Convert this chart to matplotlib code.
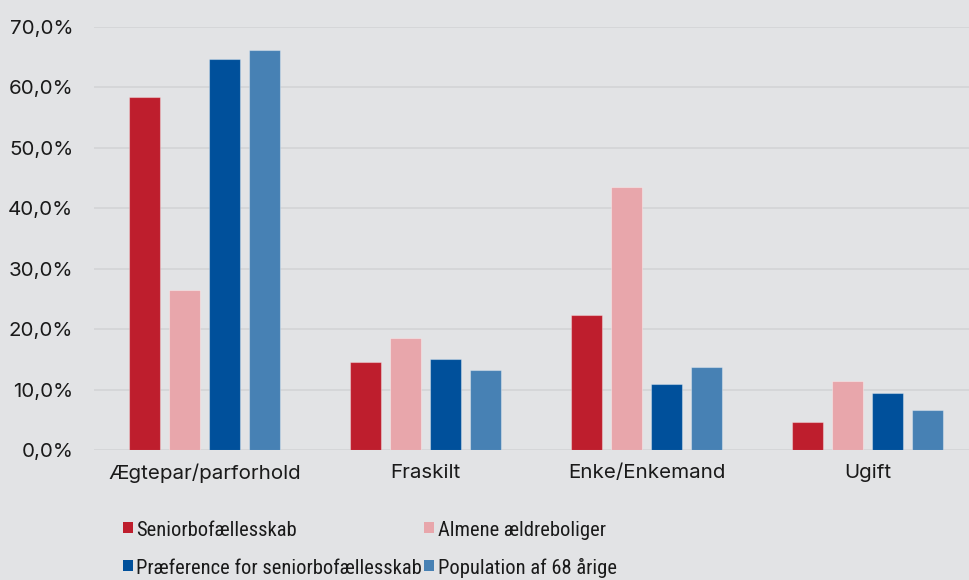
import matplotlib
matplotlib.use("Agg")
import matplotlib.pyplot as plt
import numpy as np
from matplotlib.ticker import FuncFormatter
from matplotlib.patches import Rectangle
from matplotlib import font_manager

plt.rcParams['font.family'] = ['Inter', 'DejaVu Sans']

categories = ["Ægtepar/parforhold", "Fraskilt", "Enke/Enkemand", "Ugift"]
series_names = ["Seniorbofællesskab", "Almene ældreboliger",
                "Præference for seniorbofællesskab", "Population af 68 årige"]
seniorbo = [58.3, 14.5, 22.3, 4.7]
almene = [26.5, 18.5, 43.5, 11.4]
praeference = [64.6, 15.0, 10.9, 9.4]
population = [66.1, 13.3, 13.7, 6.6]
yticks = [0, 10, 20, 30, 40, 50, 60, 70]

colors = ["#be1e2d", "#e8a6ab", "#00509b", "#4781b4"]
bg = "#e2e3e5"
txt = "#1a1a1a"

W, H = 969, 580
fig = plt.figure(figsize=(W / 100, H / 100), dpi=100, facecolor=bg)
ax = fig.add_axes([94 / W, 130 / H, (969 - 94) / W, 423.3 / H], facecolor=bg)

x = np.arange(len(categories))
pitch = 40 / 221
width = 31 / 221
data = [seniorbo, almene, praeference, population]
for i, (vals, c) in enumerate(zip(data, colors)):
    ax.bar(x + (i - 1.5) * pitch, vals, width=width, color=c,
           edgecolor=(1, 1, 1, 0.35), linewidth=0.8, zorder=3)

ax.set_ylim(0, 70)
ax.set_xlim(-0.5, 3.5 - 9 / 221)
ax.set_yticks(yticks)
ax.yaxis.set_major_formatter(FuncFormatter(lambda v, p: f"{v:.1f}%".replace(".", ",")))
ax.grid(axis='y', color="#d3d4d6", linewidth=1.2, zorder=0)
for s in ax.spines.values():
    s.set_visible(False)
ax.tick_params(axis='both', length=0, labelsize=14.8, colors=txt)
ax.tick_params(axis='y', pad=15)
ax.tick_params(axis='x', pad=10)
ax.set_xticks(x)
ax.set_xticklabels(categories)

# legend (row-wise, two columns) drawn in pixel coordinates
names = [f.name for f in font_manager.fontManager.ttflist]
leg_family = ['Liberation Sans Narrow', 'DejaVu Sans'] if 'Liberation Sans Narrow' in names \
    else ['Roboto Condensed', 'Liberation Sans', 'DejaVu Sans']
col_x = [123, 424]
row_base = [536, 574]
for k, (name, c) in enumerate(zip(series_names, colors)):
    r, cidx = divmod(k, 2)
    mx, by = col_x[cidx], row_base[r]
    fig.add_artist(Rectangle((mx / W, 1 - (by - 3) / H), 10 / W, 11 / H,
                             transform=fig.transFigure, facecolor=c, edgecolor='none'))
    fig.text((mx + 13.5) / W, 1 - by / H, name, fontsize=14.8, color=txt,
             family=leg_family, va='baseline', ha='left')

fig.savefig("out.png", dpi=100, facecolor=bg)
